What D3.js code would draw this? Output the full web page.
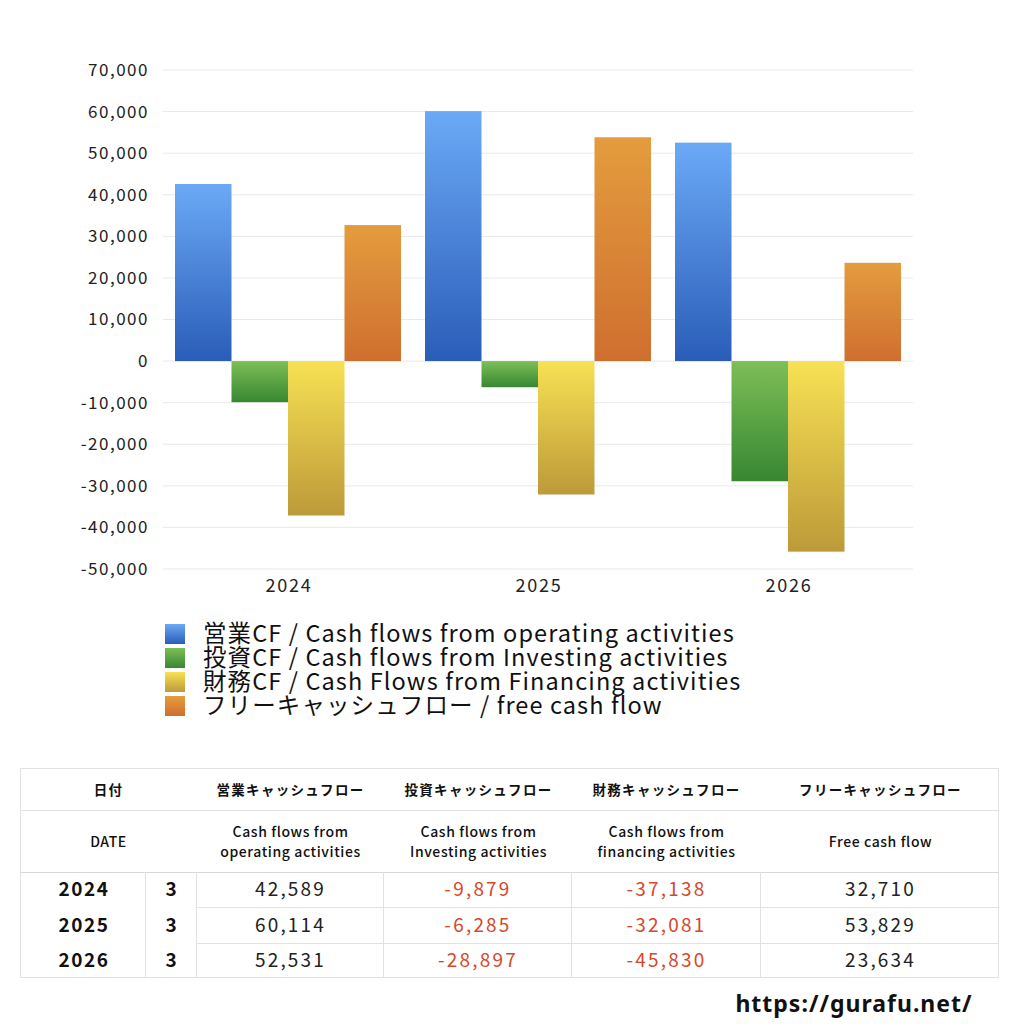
<!DOCTYPE html>
<html><head><meta charset="utf-8">
<script src="https://cdn.jsdelivr.net/npm/d3@7"></script>
<style>
html,body{margin:0;padding:0;background:#fff;}
svg{display:block;font-family:"Noto Sans CJK JP","Noto Sans",sans-serif;}
</style></head>
<body><svg id="c" width="1024" height="1024"></svg>
<script>
const years = ["2024","2025","2026"];
const months = ["3","3","3"];
const seriesNames = [
  "営業CF / Cash flows from operating activities",
  "投資CF / Cash flows from Investing activities",
  "財務CF / Cash Flows from Financing activities",
  "フリーキャッシュフロー / free cash flow"
];
const operating = [42589, 60114, 52531];
const investing = [-9879, -6285, -28897];
const financing = [-37138, -32081, -45830];
const freeCF = [32710, 53829, 23634];
const yTicks = [70000,60000,50000,40000,30000,20000,10000,0,-10000,-20000,-30000,-40000,-50000];
const headerJa = ["日付","営業キャッシュフロー","投資キャッシュフロー","財務キャッシュフロー","フリーキャッシュフロー"];
const headerEn = [["DATE"],["Cash flows from","operating activities"],["Cash flows from","Investing activities"],["Cash flows from","financing activities"],["Free cash flow"]];
const colors = [["#6ba9f6","#2a5db8"],["#7dbf57","#378732"],["#f7e154","#bd9a39"],["#e49c3e","#cf6f2f"]];

const series = [operating, investing, financing, freeCF];
const svg = d3.select("#c");
const defs = svg.append("defs");
colors.forEach((c,i)=>{
  const g = defs.append("linearGradient").attr("id","g"+i).attr("x1",0).attr("y1",0).attr("x2",0).attr("y2",1);
  g.append("stop").attr("offset","0%").attr("stop-color",c[0]);
  g.append("stop").attr("offset","100%").attr("stop-color",c[1]);
});

const loc = d3.formatLocale({decimal:".",thousands:",",grouping:[3],currency:["",""],minus:"-"});
const fmt = loc.format(",");

const left=163, right=913;
const y = d3.scaleLinear().domain([-50000,70000]).range([569,70]);
const x0 = d3.scaleBand().domain(years).range([left,right]).paddingInner(0.096).paddingOuter(0.048);
const x1 = d3.scaleBand().domain(d3.range(4)).range([0,x0.bandwidth()]);

// gridlines
svg.append("g").selectAll("line").data(yTicks).join("line")
  .attr("x1",left).attr("x2",right).attr("y1",d=>y(d)).attr("y2",d=>y(d))
  .attr("stroke","#e9e9e9").attr("stroke-width",1);

// y axis labels
const yAxis = d3.axisLeft(y).tickValues(yTicks).tickFormat(d=>fmt(d)).tickSize(0).tickPadding(14);
const ya = svg.append("g").attr("transform",`translate(${left},0)`).call(yAxis);
ya.select(".domain").remove();
ya.selectAll("text").attr("font-size",17).attr("letter-spacing",1.5).attr("fill","#222").attr("font-family","'Noto Sans CJK JP',sans-serif");

// bars
const groups = svg.append("g").selectAll("g").data(years).join("g")
  .attr("transform",d=>`translate(${x0(d)},0)`);
groups.selectAll("rect").data((d,i)=>series.map((s,k)=>({k, v:s[i]}))).join("rect")
  .attr("x",d=>x1(d.k)).attr("width",x1.bandwidth())
  .attr("y",d=>y(Math.max(0,d.v))).attr("height",d=>Math.abs(y(d.v)-y(0)))
  .attr("fill",d=>`url(#g${d.k})`);

// x axis labels
const xAxis = d3.axisBottom(x0).tickSize(0).tickPadding(10);
const xa = svg.append("g").attr("transform",`translate(1,${y(-50000)})`).call(xAxis);
xa.select(".domain").remove();
xa.selectAll("text").attr("font-size",18).attr("letter-spacing",1.8).attr("fill","#222").attr("font-family","'Noto Sans CJK JP',sans-serif");

// legend
const lg = svg.append("g").attr("transform","translate(165,624)");
seriesNames.forEach((n,i)=>{
  lg.append("rect").attr("x",0).attr("y",i*24).attr("width",20).attr("height",20).attr("fill",`url(#g${i})`);
  lg.append("text").attr("x",38).attr("y",i*24+10).attr("dy","0.36em").attr("font-size",23.5).attr("letter-spacing",1.1).attr("fill","#111").text(n);
});

// table
const tb = svg.append("g");
const colX = [20,145,196,383,571,760,999];
const rowY = [768,810,872,907,943,978];
const lineC = "#e2e2e2";
tb.append("rect").attr("x",20.5).attr("y",768.5).attr("width",978).attr("height",209).attr("fill","none").attr("stroke",lineC);
tb.append("line").attr("x1",20).attr("x2",999).attr("y1",810.5).attr("y2",810.5).attr("stroke",lineC);
tb.append("line").attr("x1",20).attr("x2",999).attr("y1",872.5).attr("y2",872.5).attr("stroke","#d8d8d8");
[907,943].forEach(yy=>tb.append("line").attr("x1",196).attr("x2",999).attr("y1",yy+0.5).attr("y2",yy+0.5).attr("stroke",lineC));
[145,196,383,571,760].forEach(xx=>tb.append("line").attr("x1",xx+0.5).attr("x2",xx+0.5).attr("y1",872).attr("y2",978).attr("stroke",lineC));

const hCenters = [108,290,478,666,880];
headerJa.forEach((h,i)=>{
  tb.append("text").attr("x",hCenters[i]+0.5).attr("y",790).attr("dy","0.36em").attr("text-anchor","middle")
    .attr("font-size",13.5).attr("letter-spacing",1.3).attr("font-weight","bold").attr("fill","#111").text(h);
});
headerEn.forEach((lines,i)=>{
  const n = lines.length;
  lines.forEach((t,j)=>{
    tb.append("text").attr("x",hCenters[i]+0.5).attr("y",842 + (j-(n-1)/2)*20).attr("dy","0.36em").attr("text-anchor","middle")
      .attr("font-size",14).attr("letter-spacing",0.6).attr("font-weight","500").attr("fill","#111").text(t);
  });
});
years.forEach((yr,r)=>{
  const cy = (rowY[r+2]+rowY[r+3])/2;
  tb.append("text").attr("x",84).attr("y",cy).attr("dy","0.36em").attr("text-anchor","middle")
    .attr("font-size",19).attr("letter-spacing",1.5).attr("font-weight","bold").attr("fill","#111").text(yr);
  tb.append("text").attr("x",171).attr("y",cy).attr("dy","0.36em").attr("text-anchor","middle")
    .attr("font-size",19).attr("font-weight","bold").attr("fill","#111").text(months[r]);
  series.forEach((s,k)=>{
    const v = s[r];
    tb.append("text").attr("x",(colX[k+2]+colX[k+3])/2+1).attr("y",cy).attr("dy","0.36em").attr("text-anchor","middle")
      .attr("font-size",19).attr("letter-spacing",2.2).attr("fill",v<0?"#d5482c":"#222").text(fmt(v));
  });
});

svg.append("text").attr("x",854).attr("y",1004).attr("dy","0.36em").attr("text-anchor","middle")
  .attr("font-size",23).attr("letter-spacing",1).attr("font-weight","bold").attr("fill","#111").attr("font-family","'Noto Sans','DejaVu Sans',sans-serif").text("https://gurafu.net/");
</script></body></html>
